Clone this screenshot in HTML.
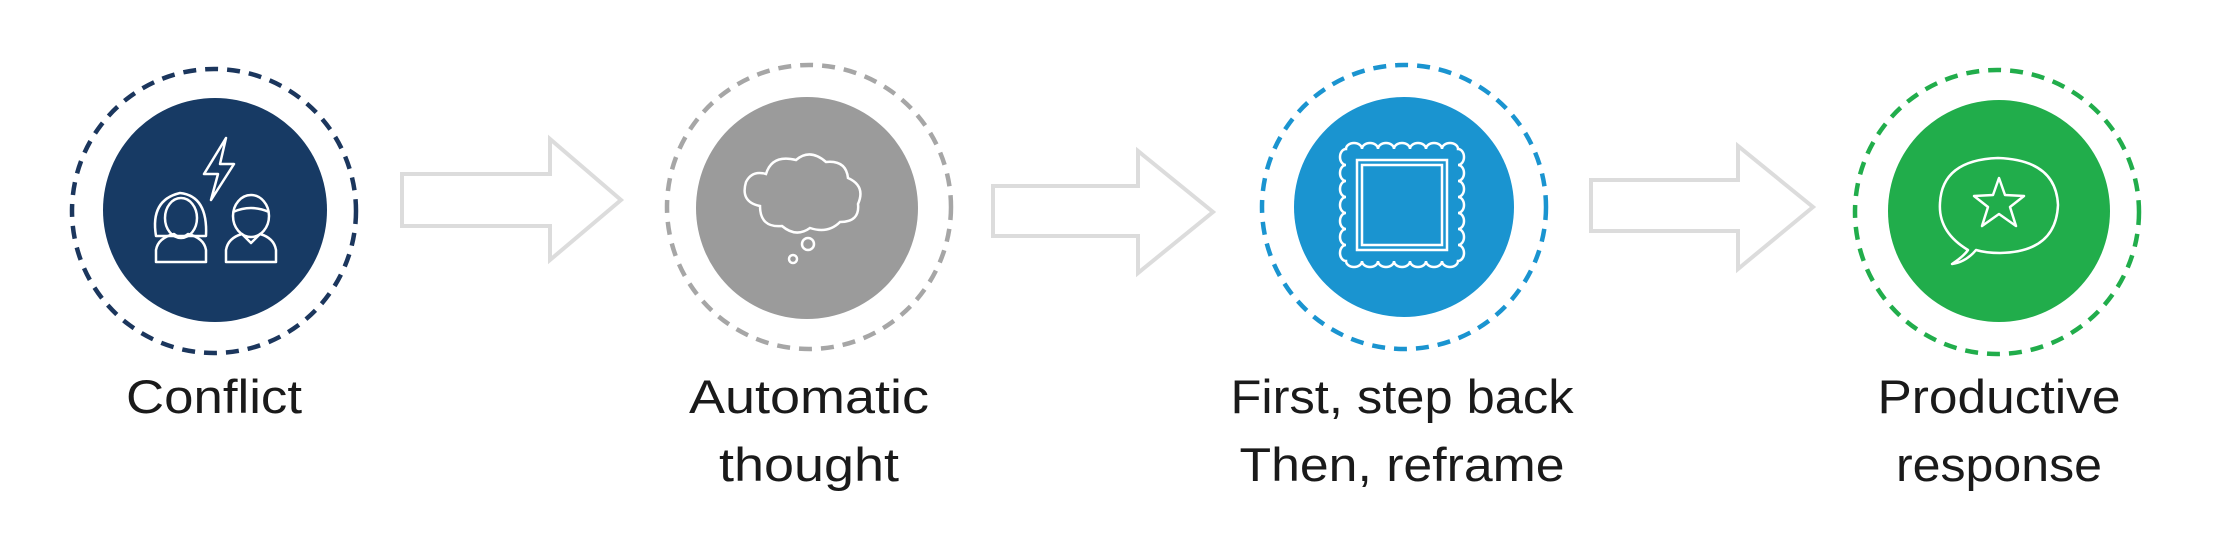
<!DOCTYPE html>
<html><head><meta charset="utf-8"><style>
html,body{margin:0;padding:0;background:#fff;}
svg{display:block;}
text{font-family:"Liberation Sans",sans-serif;fill:#1a1a1a;font-size:47px;}
</style></head><body>
<svg width="2238" height="544" viewBox="0 0 2238 544" xmlns="http://www.w3.org/2000/svg">
<g fill="none" stroke="#dcdcdc" stroke-width="4" stroke-linejoin="miter">
<path d="M402,174 H550 V139 L621,200 L550,260 V226 H402 Z"/>
<path d="M993,186 H1138 V151 L1213,212 L1138,273 V236 H993 Z"/>
<path d="M1591,180 H1738 V146 L1813,207 L1738,269 V231 H1591 Z"/>
</g>
<circle cx="214" cy="211" r="142" fill="none" stroke="#1b365d" stroke-width="4.5" stroke-dasharray="13 9"/>
<circle cx="215" cy="210" r="112" fill="#173a64"/>
<circle cx="809" cy="207" r="142" fill="none" stroke="#a6a6a6" stroke-width="4.5" stroke-dasharray="13 9"/>
<circle cx="807" cy="208" r="111" fill="#9b9b9b"/>
<circle cx="1404" cy="207" r="142" fill="none" stroke="#1a94d0" stroke-width="4.5" stroke-dasharray="13 9"/>
<circle cx="1404" cy="207" r="110" fill="#1a94d0"/>
<circle cx="1997" cy="212" r="142" fill="none" stroke="#21ad4b" stroke-width="4.5" stroke-dasharray="13 9"/>
<circle cx="1999" cy="211" r="111" fill="#21ad4b"/>
<!-- conflict icon -->
<g fill="none" stroke="#fff" stroke-width="2.5" stroke-linejoin="round">
<path d="M226,138 L204,174 L218,174 L211,200 L234,164 L220,164 Z"/>
<path d="M156,236 Q150,200 180,193 Q208,196 206,236 Z"/>
<ellipse cx="181" cy="218" rx="16" ry="20"/>
<path d="M156,262 V250 Q158,238 174,234 Q181,240 188,234 Q204,238 206,250 V262 Z"/>
<ellipse cx="251" cy="216" rx="18" ry="21"/>
<path d="M233,212 Q251,204 269,212"/>
<path d="M226,262 V250 Q228,238 242,234 L251,243 L260,234 Q274,238 276,250 V262 Z"/>
</g>
<!-- cloud -->
<g fill="none" stroke="#fff" stroke-width="2.5">
<path d="M760,206 Q740,202 746,182 Q752,170 766,174 Q772,154 796,160 Q810,148 826,162 Q846,160 848,178 Q866,186 858,204 Q860,222 840,222 Q828,234 810,228 Q796,238 782,226 Q760,228 760,206 Z"/>
<circle cx="808" cy="244" r="6"/>
<circle cx="793" cy="259" r="4"/>
</g>
<!-- frame -->
<g fill="none" stroke="#fff" stroke-width="2.5">
<path d="M1346,149 a8,6 0 0 1 16,0 a8,6 0 0 1 16,0 a8,6 0 0 1 16,0 a8,6 0 0 1 16,0 a8,6 0 0 1 16,0 a8,6 0 0 1 16,0 a8,6 0 0 1 16,0 a6,8 0 0 1 0,16 a6,8 0 0 1 0,16 a6,8 0 0 1 0,16 a6,8 0 0 1 0,16 a6,8 0 0 1 0,16 a6,8 0 0 1 0,16 a6,8 0 0 1 0,16 a8,6 0 0 1 -16,0 a8,6 0 0 1 -16,0 a8,6 0 0 1 -16,0 a8,6 0 0 1 -16,0 a8,6 0 0 1 -16,0 a8,6 0 0 1 -16,0 a8,6 0 0 1 -16,0 a6,8 0 0 1 0,-16 a6,8 0 0 1 0,-16 a6,8 0 0 1 0,-16 a6,8 0 0 1 0,-16 a6,8 0 0 1 0,-16 a6,8 0 0 1 0,-16 a6,8 0 0 1 0,-16 Z"/>
<rect x="1357" y="160" width="90" height="90"/>
<rect x="1362" y="165" width="80" height="80"/>
</g>
<!-- speech bubble -->
<g fill="none" stroke="#fff" stroke-width="2.5" stroke-linejoin="round">
<path d="M1968,250 Q1938,232 1940,203 Q1942,160 1998,158 Q2056,160 2058,205 Q2056,252 2000,253 Q1986,253 1976,250 Q1966,262 1952,264 Q1964,256 1968,250 Z"/>
<path d="M1999,178 L2005,195 L2024,196 L2010,207 L2016,226 L1999,214 L1982,226 L1988,207 L1974,196 L1993,195 Z"/>
</g>
<text x="214" y="413" text-anchor="middle" textLength="176" lengthAdjust="spacingAndGlyphs">Conflict</text>
<text x="809" y="413" text-anchor="middle" textLength="240" lengthAdjust="spacingAndGlyphs">Automatic</text>
<text x="809" y="481" text-anchor="middle" textLength="180" lengthAdjust="spacingAndGlyphs">thought</text>
<text x="1402" y="413" text-anchor="middle" textLength="343" lengthAdjust="spacingAndGlyphs">First, step back</text>
<text x="1402" y="481" text-anchor="middle" textLength="325" lengthAdjust="spacingAndGlyphs">Then, reframe</text>
<text x="1999" y="413" text-anchor="middle" textLength="243" lengthAdjust="spacingAndGlyphs">Productive</text>
<text x="1999" y="481" text-anchor="middle" textLength="206" lengthAdjust="spacingAndGlyphs">response</text>
</svg>
</body></html>
